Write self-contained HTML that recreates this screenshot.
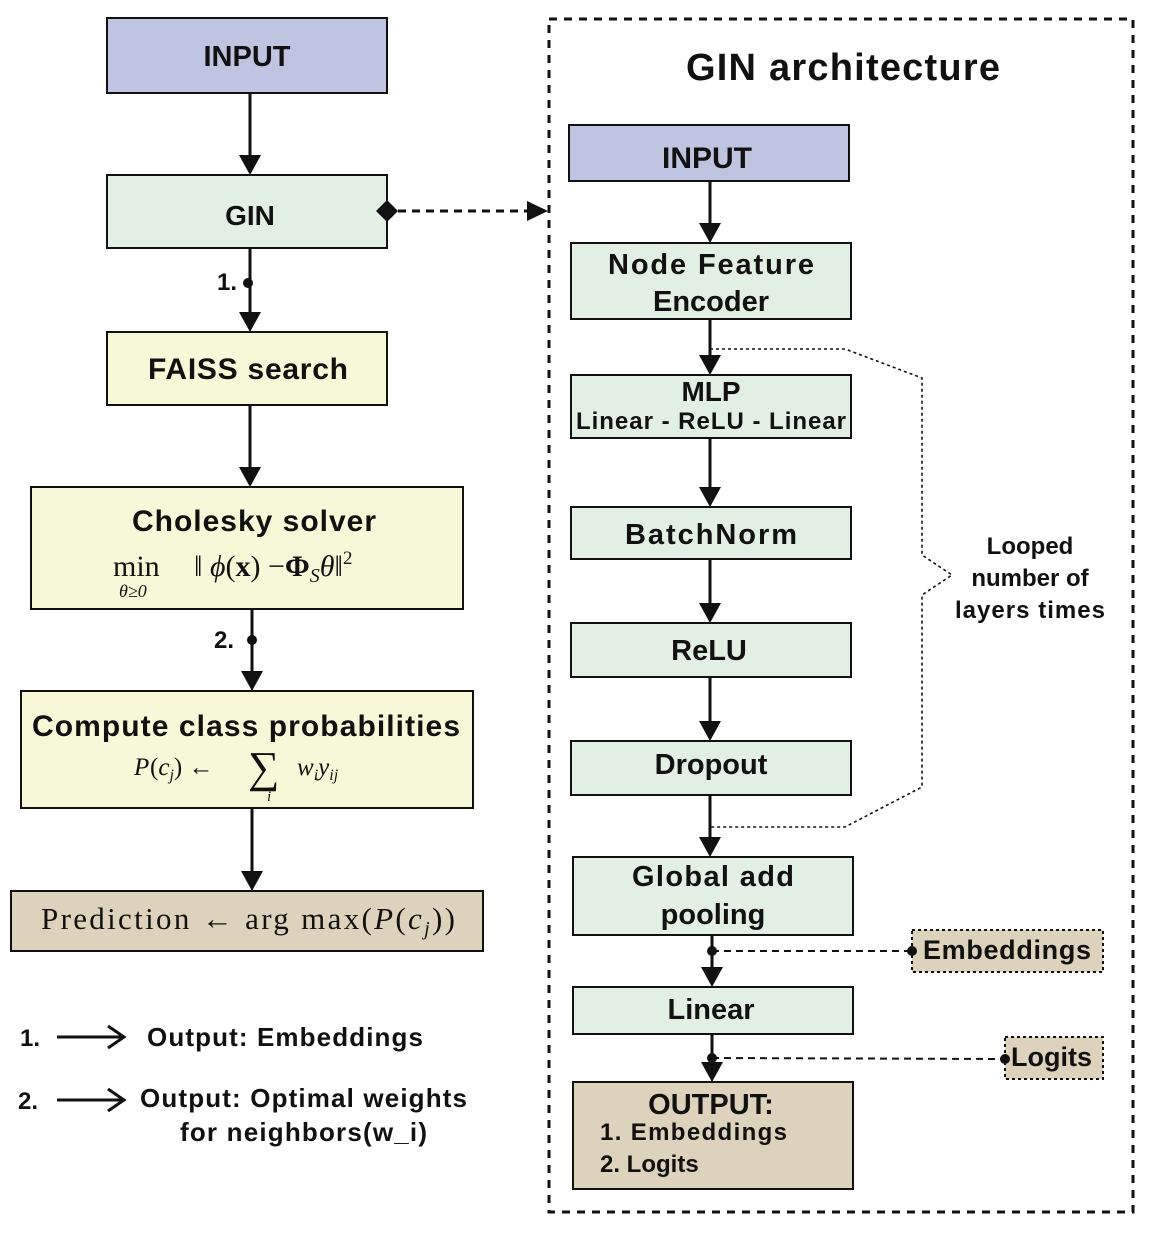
<!DOCTYPE html>
<html><head><meta charset="utf-8"><style>
html,body{margin:0;padding:0;background:#fff}
svg{display:block}
.t{font-family:"Liberation Sans",sans-serif;font-weight:bold;fill:#111}
.m{font-family:"Liberation Serif",serif;fill:#111}
</style></head><body>
<svg width="1154" height="1234" viewBox="0 0 1154 1234" xmlns="http://www.w3.org/2000/svg">
<g stroke="#111" stroke-width="2">
<rect x="107" y="18" width="280" height="75" fill="#bfc5e0"/>
<rect x="107" y="175" width="280" height="73" fill="#e2f0e3"/>
<rect x="107" y="332" width="280" height="73" fill="#f7f8d8"/>
<rect x="31" y="487" width="432" height="122" fill="#f7f8d8"/>
<rect x="21" y="691" width="452" height="117" fill="#f7f8d8"/>
<rect x="11" y="891" width="472" height="60" fill="#ddd3bc"/>
<rect x="549" y="19" width="584" height="1193" fill="none" stroke-width="3" stroke-dasharray="8,7"/>
<rect x="569" y="125" width="280" height="56" fill="#bfc5e0"/>
<rect x="571" y="243" width="280" height="76" fill="#e2f0e3"/>
<rect x="571" y="375" width="280" height="63" fill="#e2f0e3"/>
<rect x="571" y="507" width="280" height="52" fill="#e2f0e3"/>
<rect x="571" y="623" width="280" height="54" fill="#e2f0e3"/>
<rect x="571" y="741" width="280" height="54" fill="#e2f0e3"/>
<rect x="573" y="857" width="280" height="78" fill="#e2f0e3"/>
<rect x="573" y="987" width="280" height="47" fill="#e2f0e3"/>
<rect x="573" y="1082" width="280" height="107" fill="#ddd3bc"/>
<rect x="912" y="930" width="191" height="42" fill="#ddd3bc" stroke-dasharray="3,3"/>
<rect x="1005" y="1037" width="98" height="42" fill="#ddd3bc" stroke-dasharray="3,3"/>
</g>
<g stroke="#111" stroke-width="3">
<line x1="250" y1="93" x2="250" y2="155"/>
<line x1="250" y1="248" x2="250" y2="312"/>
<line x1="250" y1="405" x2="250" y2="467"/>
<line x1="252" y1="609" x2="252" y2="671"/>
<line x1="252" y1="808" x2="252" y2="871"/>
<line x1="710" y1="181" x2="710" y2="223"/>
<line x1="710" y1="319" x2="710" y2="355"/>
<line x1="710" y1="438" x2="710" y2="487"/>
<line x1="710" y1="559" x2="710" y2="603"/>
<line x1="710" y1="677" x2="710" y2="721"/>
<line x1="710" y1="795" x2="710" y2="837"/>
<line x1="712" y1="935" x2="712" y2="967"/>
<line x1="712" y1="1034" x2="712" y2="1062"/>
<line x1="57" y1="1037" x2="122" y2="1037"/>
<line x1="57" y1="1100" x2="122" y2="1100"/>
</g>
<g fill="#111">
<polygon points="239,155 261,155 250,175"/>
<polygon points="239,312 261,312 250,332"/>
<polygon points="239,467 261,467 250,487"/>
<polygon points="241,671 263,671 252,691"/>
<polygon points="241,871 263,871 252,891"/>
<polygon points="699,223 721,223 710,243"/>
<polygon points="699,355 721,355 710,375"/>
<polygon points="699,487 721,487 710,507"/>
<polygon points="699,603 721,603 710,623"/>
<polygon points="699,721 721,721 710,741"/>
<polygon points="699,837 721,837 710,857"/>
<polygon points="701,967 723,967 712,987"/>
<polygon points="701,1062 723,1062 712,1082"/>
<polygon points="527,201 548,211 527,221"/>
<polygon points="376,211 387,200 398,211 387,222"/>
<circle cx="248" cy="283" r="5"/>
<circle cx="252" cy="640" r="5"/>
<circle cx="712" cy="951" r="5"/>
<circle cx="912" cy="951" r="5"/>
<circle cx="712" cy="1058" r="5"/>
<circle cx="1005" cy="1059" r="5"/>
</g>
<g fill="none" stroke="#111" stroke-width="3">
<path d="M108,1026 L124,1037 L108,1048"/>
<path d="M108,1089 L124,1100 L108,1111"/>
</g>
<g fill="none" stroke="#111" stroke-width="2">
<line x1="398" y1="211" x2="527" y2="211" stroke-width="3" stroke-dasharray="8,6"/>
<line x1="712" y1="951" x2="912" y2="951" stroke-dasharray="7,5"/>
<line x1="712" y1="1058" x2="1005" y2="1059" stroke-dasharray="7,5"/>
<path d="M710,349 L845,349 L922,378 L922,555 L952,575 L922,595 L922,787 L845,827 L710,827" stroke-dasharray="3,3" stroke-width="1.6"/>
</g>
<g class="t" text-anchor="middle">
<text x="247" y="66" font-size="29">INPUT</text>
<text x="250" y="225" font-size="28">GIN</text>
<text x="248" y="379" font-size="30" textLength="200">FAISS search</text>
<text x="254" y="531" font-size="30" textLength="244">Cholesky solver</text>
<text x="246" y="736" font-size="30" textLength="428">Compute class probabilities</text>
<text x="843" y="80" font-size="38" textLength="314">GIN architecture</text>
<text x="707" y="168" font-size="30">INPUT</text>
<text x="711" y="274" font-size="29" textLength="206">Node Feature</text>
<text x="711" y="311" font-size="29">Encoder</text>
<text x="711" y="401" font-size="28">MLP</text>
<text x="711" y="429" font-size="24" textLength="270">Linear - ReLU - Linear</text>
<text x="711" y="544" font-size="29" textLength="172">BatchNorm</text>
<text x="709" y="660" font-size="29">ReLU</text>
<text x="711" y="774" font-size="29">Dropout</text>
<text x="713" y="886" font-size="29" textLength="162">Global add</text>
<text x="713" y="924" font-size="29">pooling</text>
<text x="711" y="1019" font-size="29">Linear</text>
<text x="711" y="1114" font-size="29">OUTPUT:</text>
<text x="1030" y="554" font-size="24">Looped</text>
<text x="1030" y="586" font-size="24">number of</text>
<text x="1030" y="618" font-size="24" textLength="150">layers times</text>
</g>
<g class="t" font-size="24">
<text x="600" y="1140" textLength="187">1. Embeddings</text>
<text x="600" y="1172">2. Logits</text>
<text x="923" y="959" font-size="27" textLength="168">Embeddings</text>
<text x="1011" y="1066" font-size="27">Logits</text>
<text x="217" y="290">1.</text>
<text x="214" y="648">2.</text>
<text x="20" y="1046">1.</text>
<text x="147" y="1046" font-size="26" textLength="276">Output: Embeddings</text>
<text x="18" y="1109">2.</text>
<text x="140" y="1107" font-size="26" textLength="327">Output: Optimal weights</text>
<text x="180" y="1141" font-size="26" textLength="247">for neighbors(w_i)</text>
</g>
<g class="m">
<text x="113" y="576" font-size="30">min</text>
<text x="119" y="597" font-size="18" font-style="italic">θ≥0</text>
<text x="194" y="576" font-size="30">‖ <tspan font-style="italic">ϕ</tspan>(<tspan font-weight="bold">x</tspan>) −<tspan font-weight="bold">Φ</tspan><tspan font-style="italic" font-size="20" dy="6">S</tspan><tspan font-style="italic" dy="-6">θ</tspan>‖<tspan font-size="19" dy="-12">2</tspan></text>
<text x="134" y="775" font-size="25" font-style="italic">P</text>
<text x="150" y="775" font-size="25">(<tspan font-style="italic">c</tspan><tspan font-style="italic" font-size="16" dy="5">j</tspan><tspan dy="-5">) ←</tspan></text>
<text x="248" y="782" font-size="44">∑</text>
<text x="267" y="801" font-size="15" font-style="italic">i</text>
<text x="297" y="775" font-size="25" font-style="italic">w<tspan font-size="16" dy="5">i</tspan><tspan dy="-5">y</tspan><tspan font-size="16" dy="5">ij</tspan></text>
<text x="41" y="929" font-size="31" textLength="414">Prediction ← arg max(<tspan font-style="italic">P</tspan>(<tspan font-style="italic">c</tspan><tspan font-style="italic" font-size="20" dy="6">j</tspan><tspan dy="-6">))</tspan></text>
</g>
</svg>
</body></html>
